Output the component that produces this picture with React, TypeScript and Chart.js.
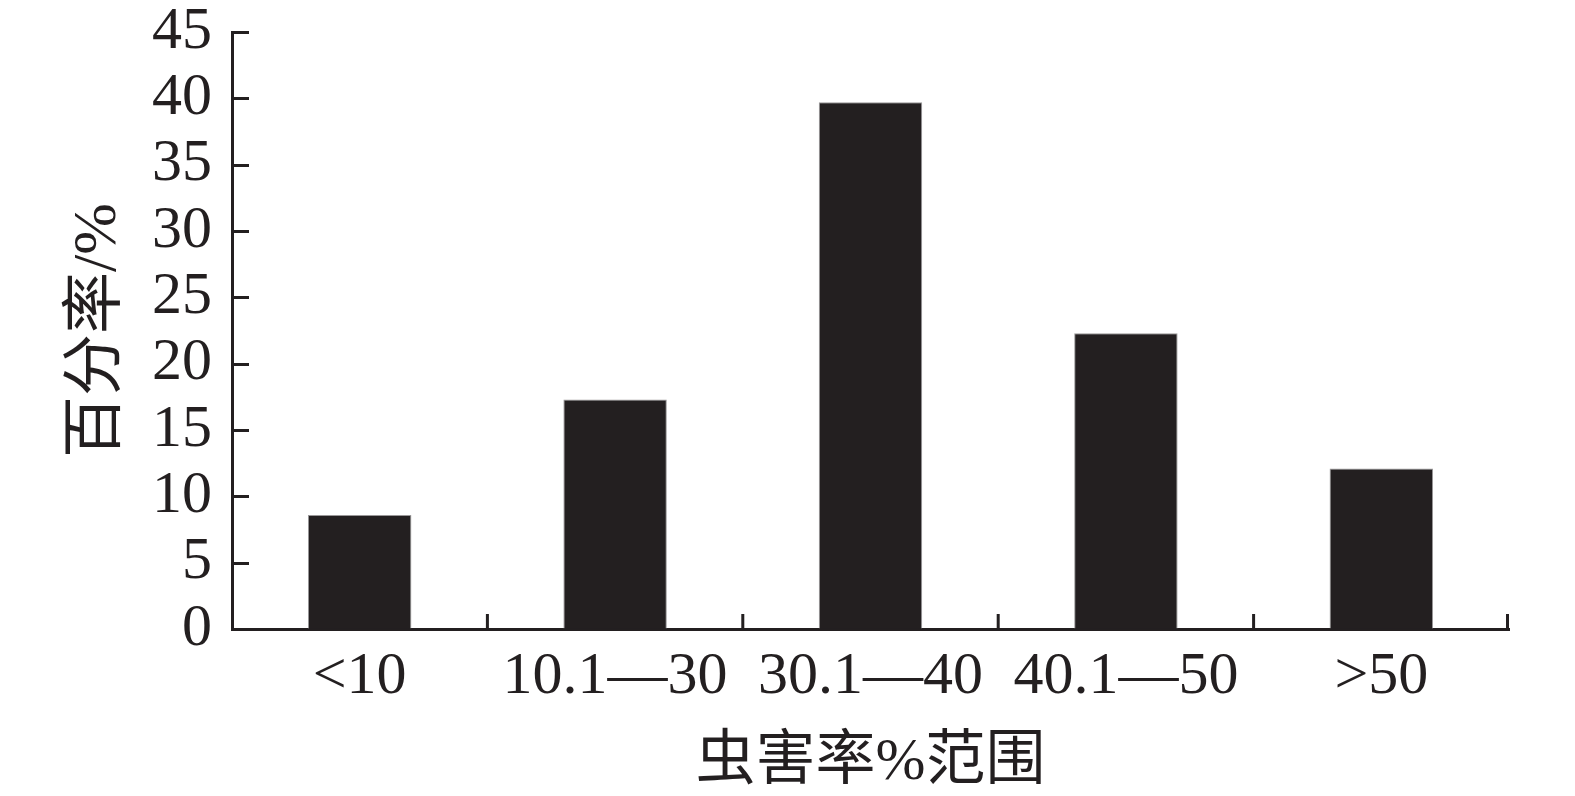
import React, { useEffect, useRef } from "react";
import { Chart, registerables } from "chart.js";

Chart.register(...registerables);

const categories = ["<10", "10.1\u201430", "30.1\u201440", "40.1\u201450", ">50"];
const percentValues = [8.6, 17.3, 39.7, 22.3, 12.1];
const yTicks = [0, 5, 10, 15, 20, 25, 30, 35, 40, 45];
const xTitle = "虫害率%范围";
const yTitle = "百分率/%";

const INK = "#231f20";
const SERIF = "'Liberation Serif', 'Times New Roman', serif";
const CJK = "'Liberation Serif', 'Noto Sans CJK SC', serif";

const innerTicks = {
  id: "innerTicks",
  afterDatasetsDraw(chart: any) {
    const { ctx, chartArea, scales } = chart;
    const x = scales.x;
    const y = scales.y;
    ctx.save();
    ctx.strokeStyle = INK;
    ctx.lineWidth = 3;
    ctx.beginPath();
    yTicks.forEach((v) => {
      if (v === 0) return;
      const py = Math.round(y.getPixelForValue(v)) + 0.5;
      ctx.moveTo(chartArea.left, py);
      ctx.lineTo(chartArea.left + 17, py);
    });
    const n = categories.length;
    for (let i = 1; i <= n; i++) {
      let px: number;
      if (i === n) px = chartArea.right - 1.5;
      else px = (x.getPixelForValue(i - 1) + x.getPixelForValue(i)) / 2;
      ctx.moveTo(px, chartArea.bottom);
      ctx.lineTo(px, chartArea.bottom - 15);
    }
    ctx.stroke();
    ctx.restore();
  },
};

export default function App() {
  const ref = useRef<HTMLCanvasElement>(null);
  useEffect(() => {
    if (!ref.current) return;
    const chart = new Chart(ref.current, {
      type: "bar",
      data: {
        labels: categories,
        datasets: [
          {
            data: percentValues,
            backgroundColor: INK,
            borderColor: "#9a9899",
            borderWidth: 1,
            barPercentage: 0.405,
            categoryPercentage: 1,
          },
        ],
      },
      options: {
        animation: false,
        responsive: false,
        maintainAspectRatio: false,
        layout: { padding: { top: 32, right: 66, left: 0, bottom: 0 } },
        plugins: { legend: { display: false }, tooltip: { enabled: false } },
        scales: {
          x: {
            grid: { display: true, drawOnChartArea: false, drawTicks: false },
            border: { display: true, color: INK, width: 3 },
            ticks: {
              color: INK,
              padding: 15,
              maxRotation: 0,
              autoSkip: false,
              font: { family: SERIF, size: 60, lineHeight: 1.1 },
            },
            title: {
              display: true,
              text: xTitle,
              color: INK,
              font: { family: CJK, size: 60, lineHeight: 1.1 },
              padding: { top: 0, bottom: 0 },
            },
            afterFit(scale: any) {
              scale.height = 167;
              scale.paddingLeft = 0;
              scale.paddingRight = 0;
            },
          },
          y: {
            min: 0,
            max: 45,
            grid: { display: true, drawOnChartArea: false, drawTicks: false },
            border: { display: true, color: INK, width: 3 },
            ticks: {
              stepSize: 5,
              color: INK,
              padding: 20,
              font: { family: SERIF, size: 60, lineHeight: 1.0 },
            },
            title: {
              display: true,
              text: yTitle,
              color: INK,
              font: { family: CJK, size: 62, lineHeight: 1.1 },
              padding: { top: 65, bottom: 0 },
            },
            afterFit(scale: any) {
              scale.width = 232;
              scale.paddingTop = 0;
              scale.paddingBottom = 0;
            },
          },
        },
      },
      plugins: [innerTicks],
    });
    return () => chart.destroy();
  }, []);
  return (
    <div style={{ position: "fixed", left: 0, top: 0, width: 1575, height: 796, background: "#fff" }}>
      <canvas ref={ref} width={1575} height={796} style={{ width: 1575, height: 796 }} />
    </div>
  );
}
